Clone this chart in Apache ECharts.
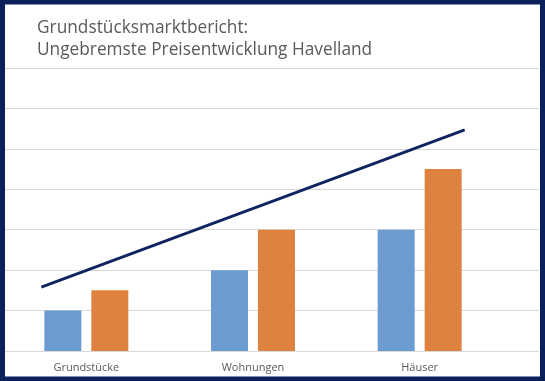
<!DOCTYPE html>
<html><head><meta charset="utf-8">
<script src="https://cdn.jsdelivr.net/npm/echarts@6/dist/echarts.min.js"></script>
<style>html,body{margin:0;padding:0;background:#fff}#main{width:545px;height:381px}</style>
</head><body><div id="main"></div>
<script>
const categories = ['Grundstücke', 'Wohnungen', 'Häuser'];
const seriesA = [1, 2, 3];
const seriesB = [1.5, 3, 4.5];
const trendX = [-0.27, 2.27];
const trendY = [1.58, 5.47];
const yTicks = [0, 1, 2, 3, 4, 5, 6, 7];

const chart = echarts.init(document.getElementById('main'));
chart.setOption({
  animation: false,
  backgroundColor: '#fff',
  title: {
    text: 'Grundstücksmarktbericht:\nUngebremste Preisentwicklung Havelland',
    left: 32, top: 12,
    textStyle: { fontFamily: 'Open Sans', fontSize: 17.3, fontWeight: 'normal', color: '#595959', lineHeight: 22 }
  },
  grid: [
    { left: 5, right: 6, top: 68, bottom: 30 },
    { left: 3, width: 500, top: 68, bottom: 30 }
  ],
  xAxis: [
    { gridIndex: 0, type: 'value', min: 0, max: 1, show: false },
    { gridIndex: 1, type: 'category', data: categories,
      axisLine: { show: false }, axisTick: { show: false },
      axisLabel: { fontFamily: 'Open Sans', fontSize: 11, color: '#595959', margin: 11 } },
    { gridIndex: 1, type: 'value', min: -0.5, max: 2.5, show: false }
  ],
  yAxis: [
    { gridIndex: 0, type: 'value', min: yTicks[0], max: yTicks[yTicks.length - 1], interval: 1,
      axisLabel: { show: false }, axisLine: { show: false }, axisTick: { show: false },
      splitLine: { lineStyle: { color: '#d9d9d9', width: 1 } } },
    { gridIndex: 1, type: 'value', min: yTicks[0], max: yTicks[yTicks.length - 1], interval: 1,
      show: false, splitLine: { show: false } }
  ],
  series: [
    { type: 'bar', xAxisIndex: 1, yAxisIndex: 1, data: seriesA, barWidth: 37, barGap: '27%',
      itemStyle: { color: '#6b9bd1' } },
    { type: 'bar', xAxisIndex: 1, yAxisIndex: 1, data: seriesB, barWidth: 37,
      itemStyle: { color: '#e0823f' } },
    { type: 'line', xAxisIndex: 2, yAxisIndex: 1, data: trendX.map((x, i) => [x, trendY[i]]),
      showSymbol: false, lineStyle: { color: '#0f2360', width: 2.8 } }
  ],
  graphic: [
    { type: 'rect', silent: true, z: 100,
      shape: { x: 2.5, y: 2, width: 540, height: 377 },
      style: { fill: 'none', stroke: '#0b1f5b', lineWidth: 5 } }
  ]
});
</script></body></html>
